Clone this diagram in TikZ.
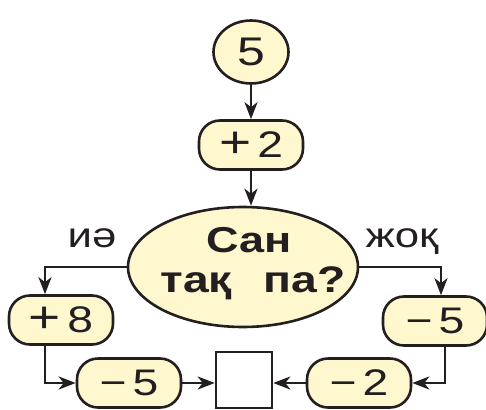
\documentclass[tikz,border=0pt]{standalone}
\usepackage{fontspec}
\setmainfont[FakeStretch=1.25]{Liberation Sans}
\usetikzlibrary{arrows.meta,shapes.geometric}
\definecolor{boxfill}{RGB}{255,247,206}
\definecolor{ink}{RGB}{35,31,32}
\newcommand{\bigplus}{{\fontsize{44}{44}\selectfont+}}
\tikzset{
  pill/.style={draw=ink, line width=2.6pt, fill=boxfill, rounded corners=21pt,
    minimum width=#1, minimum height=49pt, inner sep=0pt,
    font=\fontsize{37}{40}\selectfont, text=ink},
  pill/.default=104pt,
  link/.style={draw=ink, line width=2.4pt, -{Stealth[length=17pt,width=13pt,inset=5pt]}},
  lab/.style={font=\fontsize{35}{38}\selectfont, text=ink, anchor=base, inner sep=0pt}
}
\begin{document}
\begin{tikzpicture}[x=1pt,y=-1pt]
\useasboundingbox (0,0) rectangle (486,409);
% start
\node[ellipse, draw=ink, line width=2.6pt, fill=boxfill, minimum width=75pt,
  minimum height=63pt, inner sep=0pt, font=\fontsize{40}{44}\selectfont, text=ink]
  (c5) at (251,52) {5};
\node[pill] (p2) at (251,145) {\bigplus\,2};
\node[ellipse, draw=ink, line width=2.6pt, fill=boxfill, minimum width=230pt,
  minimum height=120pt, inner sep=0pt] (q) at (243,267) {};
\node[font=\bfseries\fontsize{36}{38}\selectfont, text=ink, anchor=base, inner sep=0pt]
  (q1) at (249,252) {Сан};
\node[font=\bfseries\fontsize{37}{38}\selectfont, text=ink, anchor=base, inner sep=0pt]
  (q2) at (253,292) {тақ\hspace{0.85em}па?};
\node[pill] (p8) at (61,320) {\bigplus\,8};
\node[pill] (m5r) at (435,321) {−\,5};
\node[pill] (m5l) at (129,383) {−\,5};
\node[pill] (m2) at (359,383) {−\,2};
\node[draw=ink, line width=2.6pt, fill=white, minimum width=56pt, minimum height=56pt,
  inner sep=0pt] (sq) at (244,380) {};
\node[lab] (yes) at (92,247) {иә};
\node[lab] (no) at (402,247) {жоқ};
% connectors
\draw[link] (c5.south) -- (p2.north);
\draw[link] (p2.south) -- (q.north -| p2.south);
\draw[link] (q.west) -| ([xshift=-16pt]p8.north);
\draw[link] (q.east) -| ([xshift=6pt]m5r.north);
\draw[link] ([xshift=-16pt]p8.south) |- (m5l.west);
\draw[link] ([xshift=10pt]m5r.south) |- (m2.east);
\draw[link] (m5l.east) -- (m5l.east -| sq.west);
\draw[link] (m2.west) -- (m2.west -| sq.east);
\end{tikzpicture}
\end{document}
